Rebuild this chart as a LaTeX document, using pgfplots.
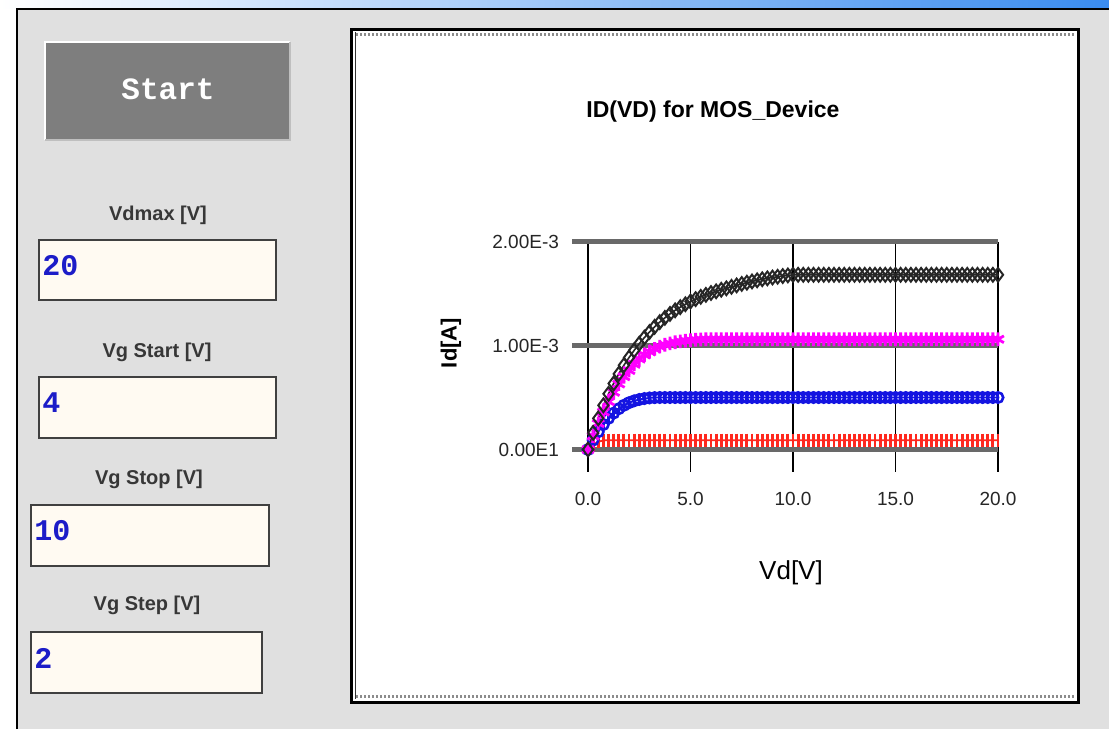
\documentclass[border=0pt]{standalone}
\usepackage{fontspec}
\setmainfont{Liberation Sans}
\newfontfamily\monofont{Liberation Mono}
\usepackage{pgfplots}
\usepackage{pgfplotstable}
\pgfplotsset{compat=1.18}

\definecolor{winbg}{RGB}{224,224,224}
\definecolor{btn}{RGB}{126,126,126}
\definecolor{field}{RGB}{255,250,242}
\definecolor{valblue}{RGB}{28,28,200}
\definecolor{gridgray}{RGB}{105,105,105}
\definecolor{barblue}{RGB}{58,140,240}
\definecolor{lbl}{RGB}{55,55,55}
\definecolor{cred}{RGB}{255,40,30}
\definecolor{cblue}{RGB}{20,20,225}
\definecolor{cmag}{RGB}{255,0,255}

% Id in mA, Vd in V
\pgfplotstableread{
vd   red   blue  mag   blk
0    0     0     0     0
0.25 0.045 0.090 0.130 0.160
0.5  0.075 0.170 0.250 0.300
0.75 0.087 0.240 0.360 0.425
1    0.090 0.300 0.460 0.535
1.25 0.090 0.350 0.550 0.635
1.5  0.090 0.392 0.630 0.727
1.75 0.090 0.425 0.700 0.810
2    0.090 0.450 0.760 0.884
2.25 0.090 0.468 0.820 0.953
2.5  0.090 0.481 0.870 1.018
2.75 0.090 0.490 0.910 1.076
3    0.090 0.496 0.940 1.130
3.25 0.090 0.499 0.968 1.180
3.5  0.090 0.500 0.990 1.225
3.75 0.090 0.500 1.007 1.266
4    0.090 0.500 1.020 1.304
4.25 0.090 0.500 1.031 1.338
4.5  0.090 0.500 1.040 1.369
4.75 0.090 0.500 1.046 1.397
5    0.090 0.500 1.051 1.423
5.25 0.090 0.500 1.055 1.446
5.5  0.090 0.500 1.058 1.468
5.75 0.090 0.500 1.060 1.487
6    0.090 0.500 1.060 1.505
6.25 0.090 0.500 1.060 1.521
6.5  0.090 0.500 1.060 1.536
6.75 0.090 0.500 1.060 1.550
7    0.090 0.500 1.060 1.564
7.25 0.090 0.500 1.060 1.578
7.5  0.090 0.500 1.060 1.592
7.75 0.090 0.500 1.060 1.604
8    0.090 0.500 1.060 1.616
8.25 0.090 0.500 1.060 1.627
8.5  0.090 0.500 1.060 1.637
8.75 0.090 0.500 1.060 1.646
9    0.090 0.500 1.060 1.654
9.25 0.090 0.500 1.060 1.661
9.5  0.090 0.500 1.060 1.668
9.75 0.090 0.500 1.060 1.674
10   0.090 0.500 1.060 1.680
10.25 0.090 0.500 1.060 1.680
10.5 0.090 0.500 1.060 1.680
10.75 0.090 0.500 1.060 1.680
11   0.090 0.500 1.060 1.680
11.25 0.090 0.500 1.060 1.680
11.5 0.090 0.500 1.060 1.680
11.75 0.090 0.500 1.060 1.680
12   0.090 0.500 1.060 1.680
12.25 0.090 0.500 1.060 1.680
12.5 0.090 0.500 1.060 1.680
12.75 0.090 0.500 1.060 1.680
13   0.090 0.500 1.060 1.680
13.25 0.090 0.500 1.060 1.680
13.5 0.090 0.500 1.060 1.680
13.75 0.090 0.500 1.060 1.680
14   0.090 0.500 1.060 1.680
14.25 0.090 0.500 1.060 1.680
14.5 0.090 0.500 1.060 1.680
14.75 0.090 0.500 1.060 1.680
15   0.090 0.500 1.060 1.680
15.25 0.090 0.500 1.060 1.680
15.5 0.090 0.500 1.060 1.680
15.75 0.090 0.500 1.060 1.680
16   0.090 0.500 1.060 1.680
16.25 0.090 0.500 1.060 1.680
16.5 0.090 0.500 1.060 1.680
16.75 0.090 0.500 1.060 1.680
17   0.090 0.500 1.060 1.680
17.25 0.090 0.500 1.060 1.680
17.5 0.090 0.500 1.060 1.680
17.75 0.090 0.500 1.060 1.680
18   0.090 0.500 1.060 1.680
18.25 0.090 0.500 1.060 1.680
18.5 0.090 0.500 1.060 1.680
18.75 0.090 0.500 1.060 1.680
19   0.090 0.500 1.060 1.680
19.25 0.090 0.500 1.060 1.680
19.5 0.090 0.500 1.060 1.680
19.75 0.090 0.500 1.060 1.680
20   0.090 0.500 1.060 1.680
}\idvd

\begin{document}
\begin{tikzpicture}
% window, in pixel units (y down)
\begin{scope}[x=0.5pt,y=-0.5pt]
  \useasboundingbox (0,0) rectangle (1109,729);
  \fill[white] (0,0) rectangle (1109,729);
  \shade[left color=white, right color=barblue] (0,0) rectangle (1109,8.5);
  \fill[winbg] (17,9) rectangle (1109,729);
  \draw[black, line width=1pt] (17,729) -- (17,9) -- (1109,9);

  % start button
  \fill[btn] (45,42) rectangle (290,140);
  \draw[white, line width=1pt] (45,140) -- (45,42) -- (290,42);
  \draw[black!25, line width=0.8pt] (290,42) -- (290,140) -- (45,140);
  \node[text=white, font=\monofont\bfseries\fontsize{15.5}{18}\selectfont] at (168,89) {Start};

  % input fields
  \tikzset{lab/.style={text=lbl, font=\bfseries\fontsize{10}{12}\selectfont},
           val/.style={text=valblue, anchor=west, inner sep=0pt, font=\monofont\bfseries\fontsize{15}{18}\selectfont},
           box/.style={fill=field, draw=black!75, line width=1pt}}
  \node[lab] at (158,215) {Vdmax [V]};
  \draw[box] (39,240) rectangle (276,300);
  \node[val] at (42,266) {20};
  \node[lab] at (157,352) {Vg Start [V]};
  \draw[box] (39,377) rectangle (276,438);
  \node[val] at (42,403) {4};
  \node[lab] at (149,479) {Vg Stop [V]};
  \draw[box] (31,505) rectangle (269,566);
  \node[val] at (34,531) {10};
  \node[lab] at (147,605) {Vg Step [V]};
  \draw[box] (31,632) rectangle (262,693);
  \node[val] at (34,658) {2};

  % chart panel
  \fill[white] (351,29) rectangle (1078,702);
  \draw[black, line width=1.5pt] (351,29) rectangle (1078,702);
  \draw[black!80, line width=0.4pt] (355.5,32) -- (355.5,699);
  \draw[black!45, line width=1.2pt, dash pattern=on 1pt off 1pt] (356,34.5) -- (1074,34.5);
  \draw[black!45, line width=1.2pt, dash pattern=on 1pt off 1pt] (356,696.5) -- (1074,696.5);

  \node[font=\bfseries\fontsize{11.5}{13}\selectfont] at (713,112) {ID(VD) for MOS\_Device};
  \node[font=\bfseries\fontsize{11}{13}\selectfont, rotate=90] at (451,343) {Id[A]};
  \node[font=\fontsize{13}{15}\selectfont] at (791,573) {Vd[V]};
\end{scope}

\begin{axis}[
  at={(294pt,-224.75pt)}, anchor=south west,
  scale only axis, width=205pt, height=104pt,
  xmin=0, xmax=20, ymin=0, ymax=2,
  clip=false,
  axis line style={draw=none},
  xtick={0,5,10,15,20},
  xticklabels={0.0,5.0,10.0,15.0,20.0},
  ytick={0,1,2},
  yticklabels={0.00E1,1.00E-3,2.00E-3},
  xtick pos=bottom, ytick pos=left,
  tick align=outside, major tick length=11pt,
  xmajorgrids,
  major x grid style={black, line width=0.75pt},
  xtick style={black, line width=0.75pt},
  ytick style={draw=none},
  tick label style={font=\fontsize{9.5}{11}\selectfont, text=black!85},
  xticklabel style={yshift=-7pt},
]
\foreach \yy in {0,1,2} {
  \edef\temp{\noexpand\draw[gridgray, line width=2.2pt] (axis cs:-0.78,\yy) -- (axis cs:20,\yy);}
  \temp
}
\addplot[cred, line width=0.9pt, mark=|, mark size=3.3pt, mark options={line width=1.4pt}] table[x=vd, y=red] {\idvd};
\addplot[cblue, line width=0.9pt, mark=o, mark size=2.6pt, mark options={line width=1.3pt}] table[x=vd, y=blue] {\idvd};
\addplot[cblue, only marks, mark=|, mark size=2.8pt, mark options={line width=1.2pt}] table[x=vd, y=blue] {\idvd};
\addplot[cmag, line width=0.9pt, mark=asterisk, mark size=3.4pt, mark options={line width=1.4pt}] table[x=vd, y=mag] {\idvd};
\addplot[black!85, line width=0.8pt, mark=diamond, mark size=3.4pt, mark options={line width=1pt}] table[x=vd, y=blk] {\idvd};
\end{axis}
\end{tikzpicture}
\end{document}
